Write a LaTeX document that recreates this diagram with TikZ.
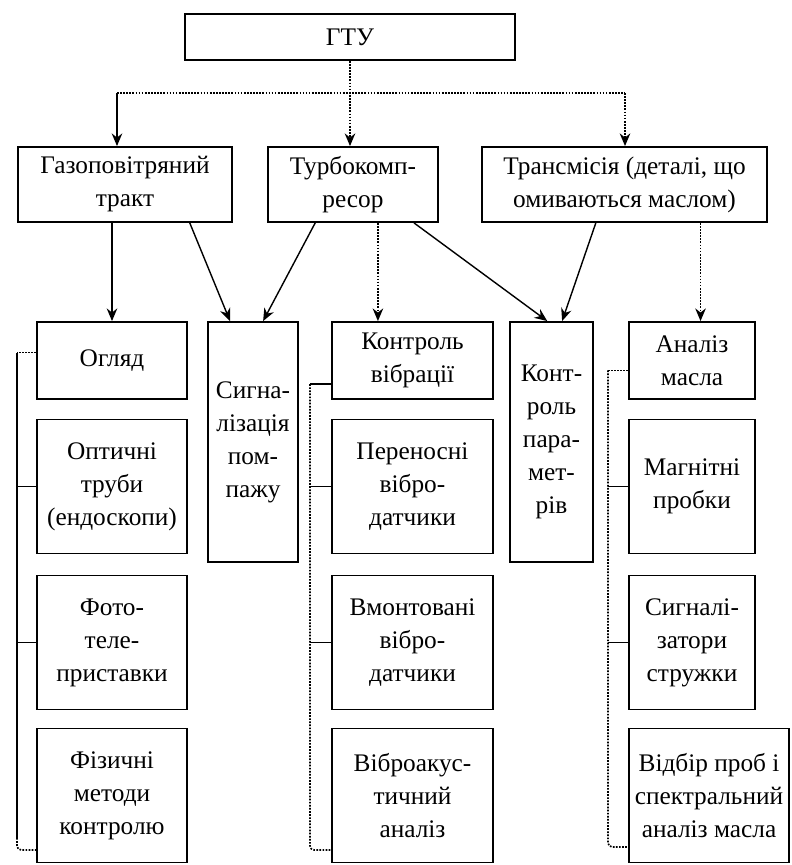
\documentclass[tikz,border=0pt]{standalone}
\usepackage{fontspec}
\setmainfont{Liberation Serif}
\usetikzlibrary{arrows.meta,calc}

\begin{document}
\begin{tikzpicture}[x=0.025cm, y=-0.025cm, font=\fontsize{18}{23.5}\selectfont,
	>={Stealth[length=9pt,width=7.5pt]},
	blk/.style={draw, line width=1.3pt, align=center, inner sep=0pt},
	row/.style={minimum height=1.925cm},
	big/.style={minimum height=3.35cm},
	lnk/.style={line width=1pt},
	dots/.style={line width=1.2pt, densely dotted}]
	\useasboundingbox (0,0) rectangle (791,865);
	% top levels
	\node[blk, minimum width=8.25cm, minimum height=1.15cm] (gtu) at (350,37) {ГТУ};
	\node[blk, minimum width=5.35cm, minimum height=1.875cm] (gaz) at (125,184.5) {Газоповітряний\\тракт};
	\node[blk, minimum width=4.25cm, minimum height=1.875cm] (turbo) at (353,184.5) {Турбокомп-\\ресор};
	\node[blk, minimum width=7.125cm, minimum height=1.875cm] (trans) at (624.5,184.5) {Трансмісія (деталі, що\\омиваються маслом)};
	% columns
	\node[blk, row, minimum width=3.75cm] (ogl) at (112,360.5) {Огляд};
	\node[blk, big, minimum width=3.75cm] (opt) at (112,486.5) {Оптичні\\труби\\(ендоскопи)};
	\node[blk, big, minimum width=3.75cm] (foto) at (112,642.5) {Фото-\\теле-\\приставки};
	\node[blk, big, minimum width=3.75cm] (fiz) at (112,795.5) {Фізичні\\методи\\контролю};
	\node[blk, minimum width=2.25cm, minimum height=6cm] (sig) at (253,442) {Сигна-\\лізація\\пом-\\пажу};
	\node[blk, row, minimum width=4.025cm] (vib) at (412.5,360.5) {Контроль\\вібрації};
	\node[blk, big, minimum width=4.025cm] (per) at (412.5,486.5) {Переносні\\вібро-\\датчики};
	\node[blk, big, minimum width=4.025cm] (vmo) at (412.5,642.5) {Вмонтовані\\вібро-\\датчики};
	\node[blk, big, minimum width=4.025cm] (vak) at (412.5,795.5) {Віброакус-\\тичний\\аналіз};
	\node[blk, minimum width=2.075cm, minimum height=6cm] (par) at (551.5,442) {Конт-\\роль\\пара-\\мет-\\рів};
	\node[blk, row, minimum width=3.15cm] (mas) at (692,360.5) {Аналіз\\масла};
	\node[blk, big, minimum width=3.15cm] (mag) at (692,486.5) {Магнітні\\пробки};
	\node[blk, big, minimum width=3.15cm] (str) at (692,642.5) {Сигналі-\\затори\\стружки};
	\node[blk, big, minimum width=4cm] (vid) at (709,795.5) {Відбір проб і\\спектральний\\аналіз масла};
	% from ГТУ
	\coordinate (hl) at (117,93);
	\coordinate (hr) at (625,93);
	\draw[dots] (hl) -- (hr);
	\draw[lnk,->] (hl) -- (hl |- gaz.north);
	\draw[dots,->] (gtu.south) -- (gtu.south |- turbo.north);
	\draw[dots,->] (hr) -- (hr |- trans.north);
	% second level to third
	\draw[lnk,->] (ogl.north |- gaz.south) -- (ogl.north);
	\draw[lnk,->] ($(gaz.south)!0.6!(gaz.south east)$) -- ($(sig.north west)!0.5!(sig.north)$);
	\draw[lnk,->] ($(turbo.south)!0.44!(turbo.south west)$) -- ($(sig.north)!0.22!(sig.north east)$);
	\coordinate (tv) at ($(turbo.south)!0.29!(turbo.south east)$);
	\draw[dots,->] (tv) -- (tv |- vib.north);
	\draw[lnk,->] ($(turbo.south)!0.71!(turbo.south east)$) -- ($(par.north)!0.1!(par.north west)$);
	\draw[lnk,->] ($(trans.south)!0.2!(trans.south west)$) -- ($(par.north)!0.25!(par.north east)$);
	\coordinate (tm) at ($(trans.south)!0.53!(trans.south east)$);
	\draw[dots,->] (tm) -- (tm |- mas.north);
	% left bracket
	\coordinate (lt) at ($(ogl.west)!0.2!(ogl.north west)$);
	\coordinate (lend) at (17,838);
	\coordinate (lhook) at (17,850);
	\draw[lnk] (lt -| lend) -- (lend);
	\draw[dots] (lt) -- (lt -| lend);
	\foreach \b in {opt,foto} \draw[lnk] (\b.west) -- (\b.west -| lend);
	\draw[dots, rounded corners=3pt] (lend) |- (fiz.west |- lhook);
	% middle bracket
	\coordinate (vt) at ($(vib.west)!0.6!(vib.south west)$);
	\coordinate (mhook) at (310,850);
	\draw[lnk] (vt) -- (vt -| mhook);
	\draw[dots, rounded corners=3pt] (vt -| mhook) -- (mhook) -- (vak.west |- mhook);
	\foreach \b in {per,vmo} \draw[lnk] (\b.west) -- (\b.west -| mhook);
	% right bracket
	\coordinate (mt) at ($(mas.west)!0.25!(mas.south west)$);
	\coordinate (rhook) at (608,847);
	\draw[dots] (mt) -- (mt -| rhook);
	\draw[dots, rounded corners=3pt] (mt -| rhook) -- (rhook) -- (vid.west |- rhook);
	\foreach \b in {mag,str} \draw[lnk] (\b.west) -- (\b.west -| rhook);
\end{tikzpicture}
\end{document}
